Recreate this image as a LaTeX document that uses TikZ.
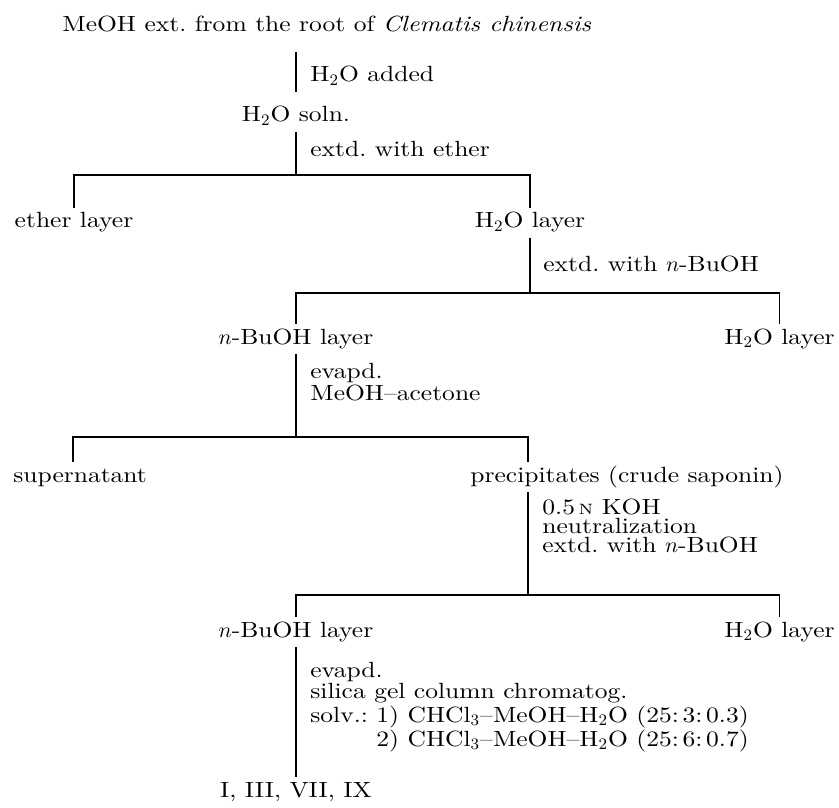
\documentclass[tikz,border=0pt]{standalone}
\usepackage{amsmath}
\usepackage{fontspec}
\setmainfont{Latin Modern Roman}[FakeStretch=1.16]
\usepackage{tikz}
\usetikzlibrary{positioning, calc}

\newcommand{\normality}{{\fontsize{7.5}{7.5}\selectfont N}}

\begin{document}
\begin{tikzpicture}[
    x=0.5pt, y=-0.5pt,
    font=\fontsize{11}{9.5}\selectfont,
    fraction/.style={inner xsep=0pt, inner ysep=3pt, text height=7pt, text depth=2pt, anchor=base},
    cond/.style={inner sep=0pt, anchor=base west, align=left},
    stem/.style={line width=0.55pt}
]
\useasboundingbox (0,0) rectangle (839,807);

% fractions
\node[fraction, anchor=base west] (top) at (62,32) {MeOH ext.\ from the root of \textit{Clematis chinensis}};
\node[fraction] (soln) at (296,122) {H$_2$O soln.};
\node[fraction] (ether) at (74,228) {ether layer};
\node[fraction] (wat1) at (530,228) {H$_2$O layer};
\node[fraction] (bu1) at (296,344) {$n$-BuOH layer};
\node[fraction, anchor=base east] (wat2) at (835,344) {H$_2$O layer};
\node[fraction, anchor=base west] (super) at (13,482) {supernatant};
\node[fraction, anchor=base west] (prec) at (470,482) {precipitates (crude saponin)};
\node[fraction] (bu2) at (296,637) {$n$-BuOH layer};
\node[fraction, anchor=base east] (wat3) at (835,637) {H$_2$O layer};
\node[fraction] (final) at (296,797) {I, III, VII, IX};

% junctions
\coordinate (j1) at (296,175);
\coordinate (j2) at (530,293);
\coordinate (j3) at (296,437);
\coordinate (j4) at (528,595);

% conditions (anchored at the last line)
\node[cond] (c1) at (310,82) {H$_2$O added};
\node[cond] (c2) at (310,157) {extd.\ with ether};
\node[cond] (c3) at (543,272) {extd.\ with $n$-BuOH};
\node[cond] (c4) at (310,400) {evapd.\\MeOH--acetone};
\node[cond] (c5) at (542,552) {0.5\,\normality\ KOH\\neutralization\\extd.\ with $n$-BuOH};
\node[cond] (c6) at (310,746) {evapd.\\silica gel column chromatog.\\solv.:\ 1) CHCl$_3$--MeOH--H$_2$O (25:\,3:\,0.3)\\\hphantom{solv.:\ }2) CHCl$_3$--MeOH--H$_2$O (25:\,6:\,0.7)};

\draw[stem, shorten <=5pt, shorten >=5pt] (soln.north |- top.south) -- (soln.north);
\draw[stem] (soln.south) -- (j1);
\draw[stem] (ether.north) |- (j1) -| (wat1.north);
\draw[stem] (wat1.south) -- (j2);
\draw[stem] (bu1.north) |- (j2) -| (wat2.north);
\draw[stem] (bu1.south) -- (j3);
\draw[stem] ($(super.north west)+(60,0)$) |- (j3) -| (prec.north -| j4);
\draw[stem] (prec.south -| j4) -- (j4);
\draw[stem] (bu2.north) |- (j4) -| (wat3.north);
\draw[stem] (bu2.south) -- (final.north);

\end{tikzpicture}
\end{document}
